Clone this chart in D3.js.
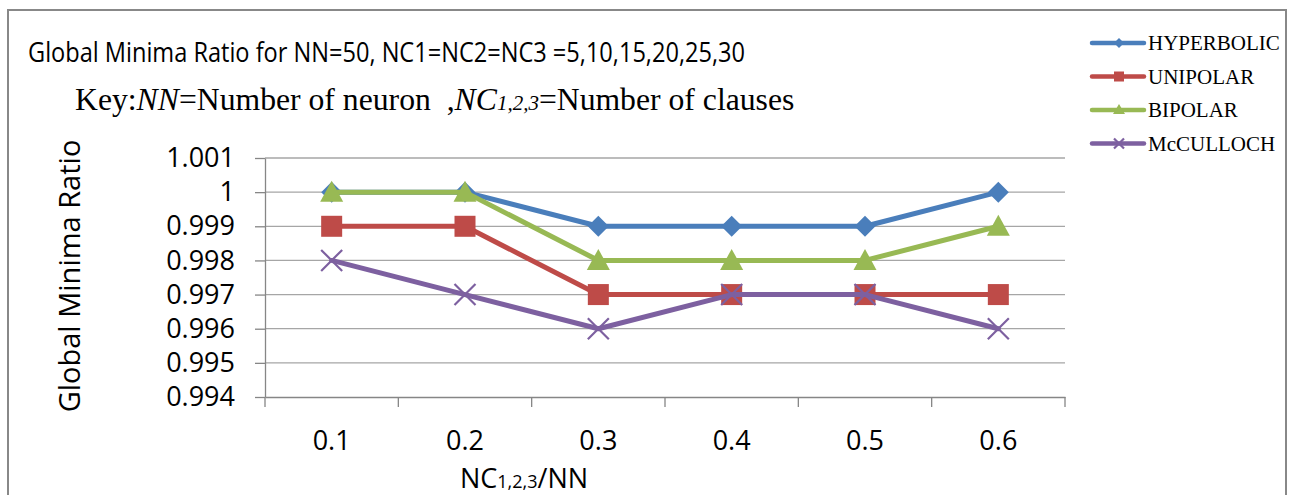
<!DOCTYPE html>
<html><head><meta charset="utf-8">
<script src="https://cdn.jsdelivr.net/npm/d3@7"></script>
<style>body{margin:0;background:#fff}svg{display:block}</style>
</head><body>
<script>
const categories = ["0.1","0.2","0.3","0.4","0.5","0.6"];
const hyperbolic = [1, 1, 0.999, 0.999, 0.999, 1];
const unipolar   = [0.999, 0.999, 0.997, 0.997, 0.997, 0.997];
const bipolar    = [1, 1, 0.998, 0.998, 0.998, 0.999];
const mcculloch  = [0.998, 0.997, 0.996, 0.997, 0.997, 0.996];
const yTicks = [0.994,0.995,0.996,0.997,0.998,0.999,1,1.001];
const yTickLabels = ["0.994","0.995","0.996","0.997","0.998","0.999","1","1.001"];
const seriesNames = ["HYPERBOLIC","UNIPOLAR","BIPOLAR","McCULLOCH"];

const series = [
  {name: seriesNames[0], values: hyperbolic, color: "#4A7EBB", marker: "diamond"},
  {name: seriesNames[1], values: unipolar,   color: "#BE4B48", marker: "square"},
  {name: seriesNames[2], values: bipolar,    color: "#98B954", marker: "triangle"},
  {name: seriesNames[3], values: mcculloch,  color: "#7D60A0", marker: "x"}
];

const W = 1289, H = 495;
const FONT = "'Open Sans', sans-serif";
const svg = d3.select("body").append("svg").attr("width", W).attr("height", H);

// outer border
svg.append("rect").attr("x", 8).attr("y", 10).attr("width", 1278).attr("height", 500)
  .attr("fill", "#fff").attr("stroke", "#888").attr("stroke-width", 2);

const L = 265, R = 1065, T = 158, B = 397;
const x = d3.scaleBand().domain(categories).range([L, R]);
const y = d3.scaleLinear().domain([0.994, 1.001]).range([B, T]);

// gridlines
svg.append("g").selectAll("line").data(yTicks.slice(1)).join("line")
  .attr("x1", L).attr("x2", R).attr("y1", d => y(d)).attr("y2", d => y(d))
  .attr("stroke", "#a6a6a6").attr("stroke-width", 1.3);

// y axis
const yAxis = d3.axisLeft(y).tickValues(yTicks).tickSize(10).tickSizeOuter(0)
  .tickFormat((d,i) => yTickLabels[i]).tickPadding(20);
const gy = svg.append("g").attr("transform", `translate(${L},0)`).call(yAxis);
gy.select(".domain").attr("stroke", "#868686").attr("stroke-width", 1.3);
gy.selectAll(".tick line").attr("stroke", "#868686").attr("stroke-width", 1.3);
gy.selectAll("text").attr("font-family", FONT).attr("font-size", 27).attr("fill", "#000");

// x axis
const xAxis = d3.axisBottom(x).tickSize(0).tickPadding(0);
const gx = svg.append("g").attr("transform", `translate(0,${B})`).call(xAxis);
gx.select(".domain").attr("stroke", "#868686").attr("stroke-width", 1.3);
gx.selectAll("text").attr("font-family", FONT).attr("font-size", 27).attr("fill", "#000")
  .attr("dy", null).attr("y", 53);
// boundary ticks
const bounds = categories.map(c => x(c)).concat([R]);
svg.append("g").selectAll("line").data(bounds).join("line")
  .attr("x1", d => d).attr("x2", d => d).attr("y1", B).attr("y2", B + 10)
  .attr("stroke", "#868686").attr("stroke-width", 1.3);

const cx = c => x(c) + x.bandwidth() / 2;

function drawMarker(g, type, px, py, color, s) {
  if (type === "diamond") {
    g.append("path").attr("d", `M${px},${py-s}L${px+s},${py}L${px},${py+s}L${px-s},${py}Z`).attr("fill", color);
  } else if (type === "square") {
    g.append("rect").attr("x", px - s).attr("y", py - s).attr("width", 2*s).attr("height", 2*s).attr("fill", color);
  } else if (type === "triangle") {
    g.append("path").attr("d", `M${px},${py-s-1}L${px+s+1},${py+s-1}L${px-s-1},${py+s-1}Z`).attr("fill", color);
  } else if (type === "x") {
    g.append("path").attr("d", `M${px-s},${py-s}L${px+s},${py+s}M${px+s},${py-s}L${px-s},${py+s}`)
      .attr("stroke", color).attr("stroke-width", 2.2);
  }
}

const line = d3.line().x((d,i) => cx(categories[i])).y(d => y(d));
series.forEach(s => {
  const g = svg.append("g");
  g.append("path").datum(s.values).attr("d", line).attr("fill", "none")
    .attr("stroke", s.color).attr("stroke-width", 5).attr("stroke-linejoin", "round").attr("stroke-linecap", "round");
  s.values.forEach((v, i) => drawMarker(g, s.marker, cx(categories[i]), y(v), s.color, 10.5));
});

// legend
const lg = svg.append("g");
series.forEach((s, i) => {
  const ly = 43 + i * 33.5;
  const g = lg.append("g");
  g.append("line").attr("x1", 1092).attr("x2", 1144).attr("y1", ly).attr("y2", ly)
    .attr("stroke", s.color).attr("stroke-width", 4.5).attr("stroke-linecap", "round");
  drawMarker(g, s.marker, 1119, ly, s.color, 5);
  g.append("text").attr("x", 1148).attr("y", ly + 7).text(s.name)
    .attr("font-family", "'Liberation Serif', serif").attr("font-size", 21).attr("fill", "#000");
});

// title
svg.append("text").attr("x", 28).attr("y", 62)
  .attr("font-family", FONT).attr("font-size", 28)
  .attr("textLength", 717).attr("lengthAdjust", "spacingAndGlyphs")
  .text("Global Minima Ratio for NN=50, NC1=NC2=NC3 =5,10,15,20,25,30");

const key = svg.append("text").attr("x", 75).attr("y", 110)
  .attr("font-family", "'Liberation Serif', serif").attr("font-size", 31.7).attr("fill", "#000");
key.append("tspan").text("Key:");
key.append("tspan").attr("font-style", "italic").text("NN");
key.append("tspan").text("=Number of neuron\u00a0\u00a0,");
key.append("tspan").attr("font-style", "italic").text("NC");
key.append("tspan").attr("font-style", "italic").attr("font-size", 21).text("1,2,3");
key.append("tspan").text("=Number of clauses");

// y axis title
svg.append("text").attr("transform", "translate(80,276) rotate(-90)")
  .attr("text-anchor", "middle").attr("font-family", FONT).attr("font-size", 29)
  .text("Global Minima Ratio");

// x axis title
const xt = svg.append("text").attr("x", 524).attr("y", 488).attr("text-anchor", "middle")
  .attr("font-family", FONT).attr("font-size", 27);
xt.append("tspan").text("NC");
xt.append("tspan").attr("font-size", 18).text("1,2,3");
xt.append("tspan").text("/NN");
</script>
</body></html>
